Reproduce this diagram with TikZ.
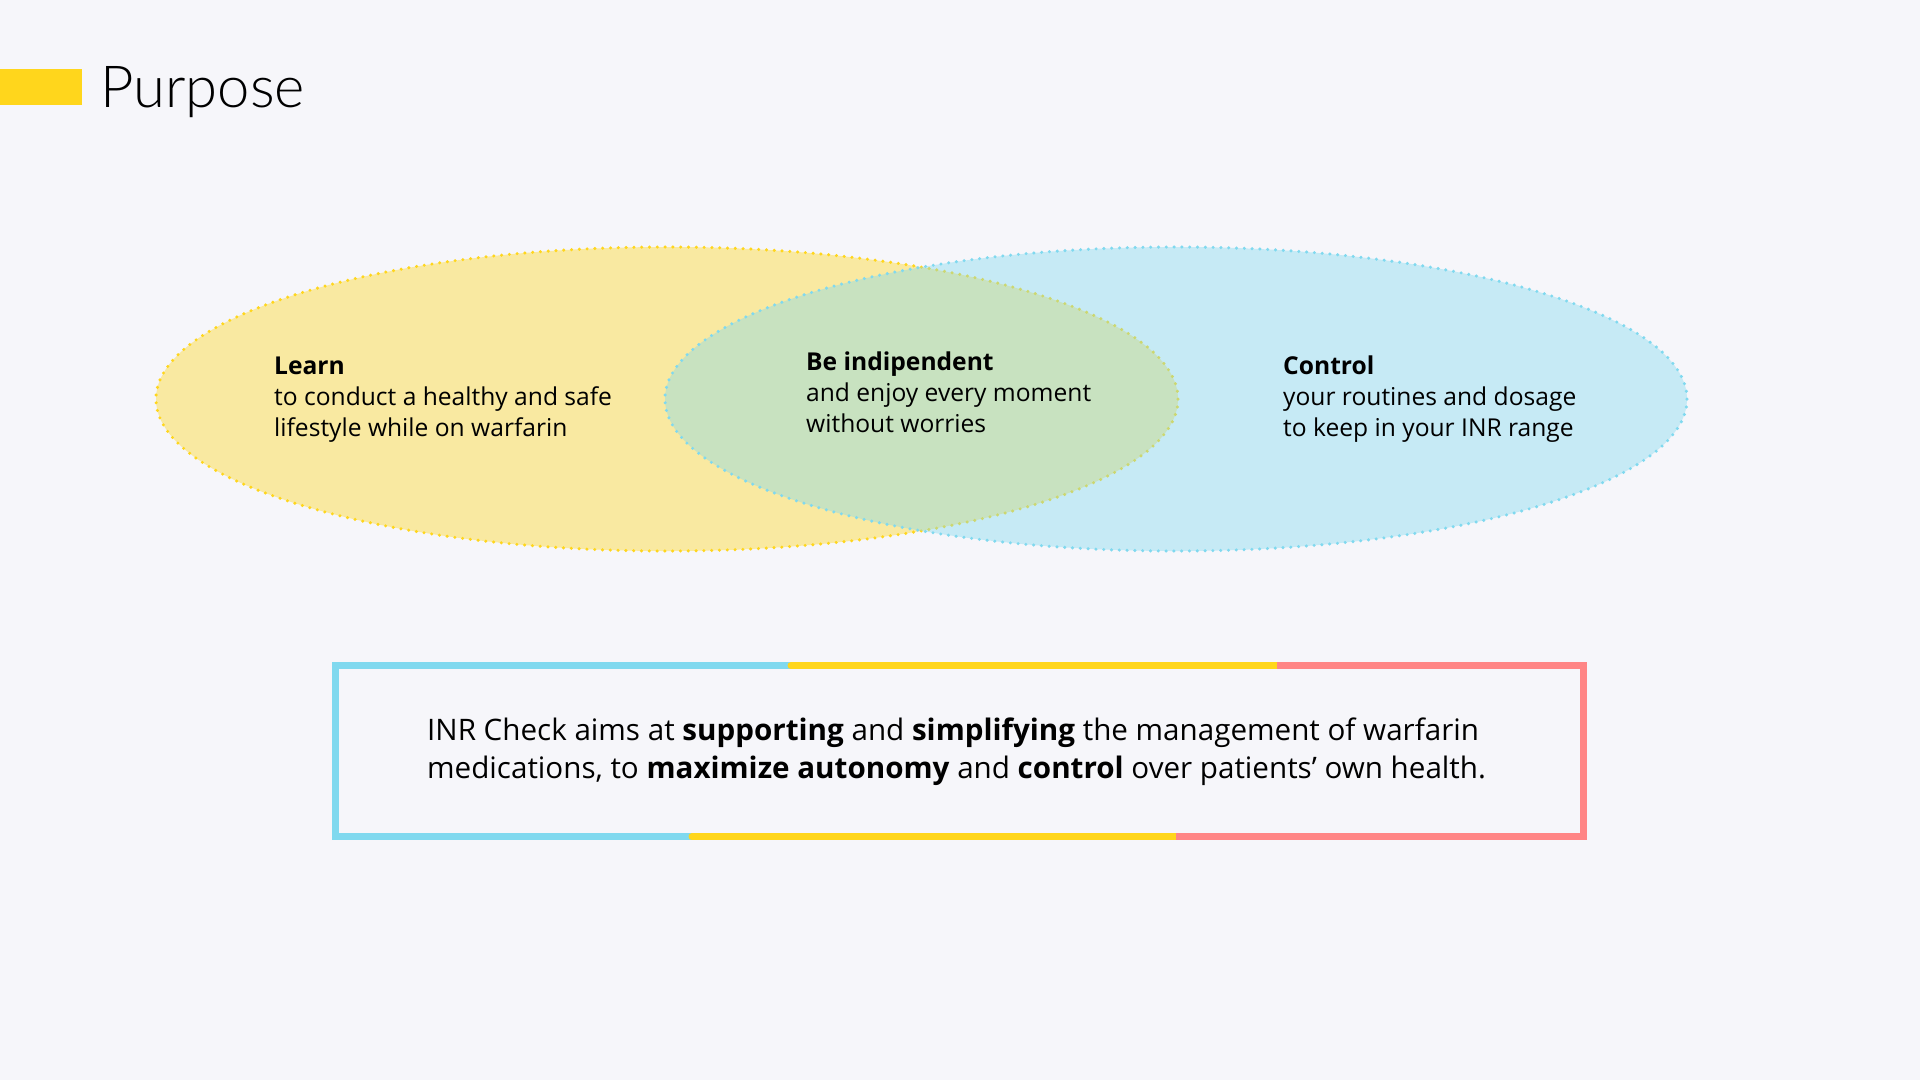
\documentclass[tikz,border=0pt]{standalone}
\usepackage{fontspec}
\setmainfont{Open Sans}
\newfontfamily\lightfont{Lato Light}
\usetikzlibrary{shapes.geometric,positioning}
\definecolor{paper}{RGB}{246,246,250}
\definecolor{sunny}{RGB}{255,214,28}
\definecolor{sky}{RGB}{128,217,239}
\definecolor{coral}{RGB}{255,133,133}

\begin{document}
\begin{tikzpicture}[x=1pt, y=-1pt,
set/.style={ellipse, minimum width=1022pt, minimum height=304pt, inner sep=0pt,
  line width=3.4pt, dash pattern=on 0pt off 7.8pt, line cap=round, fill opacity=0.4},
blurb/.style={align=left, inner sep=0pt, anchor=base west, font=\fontsize{24.6}{31}\selectfont},
frame/.style={line width=7pt, line join=miter}]

\fill [paper] (0,0) rectangle (1920,1080);

% title
\fill [sunny] (0,69) rectangle (82,105);
\node [inner sep=0pt, anchor=base west, font=\lightfont\fontsize{58}{62}\selectfont] (title) at (100,107) {Purpose};

% the two sets
\node [set, draw=sunny, fill=sunny] (learnset) at (667,399) {};
\node [set, draw=sky, fill=sky] (controlset) at (1176,399) {};

% texts, anchored on their last line
\node [blurb] (learn) at (274,436) {\textbf{Learn}\\to conduct a healthy and safe\\lifestyle while on warfarin};
\node [blurb] (indep) at (806,432) {\textbf{Be indipendent}\\and enjoy every moment\\without worries};
\node [blurb] (control) at (1283,436) {\textbf{Control}\\your routines and dosage\\to keep in your INR range};

% statement box
\draw [frame, sky] (791,665.5) -- (335.5,665.5) -- (335.5,836.5) -- (692,836.5);
\draw [frame, sunny, line cap=round] (791,665.5) -- (1277,665.5);
\draw [frame, sunny, line cap=round] (692,836.5) -- (1176,836.5);
\draw [frame, coral] (1277,665.5) -- (1583.5,665.5) -- (1583.5,836.5) -- (1176,836.5);

\node [blurb, font=\fontsize{29.6}{38}\selectfont] (aim) at (427,778)
  {INR Check aims at \textbf{supporting} and \textbf{simplifying} the management of warfarin\\
   medications, to \textbf{maximize autonomy} and \textbf{control} over patients’ own health.};
\end{tikzpicture}
\end{document}
